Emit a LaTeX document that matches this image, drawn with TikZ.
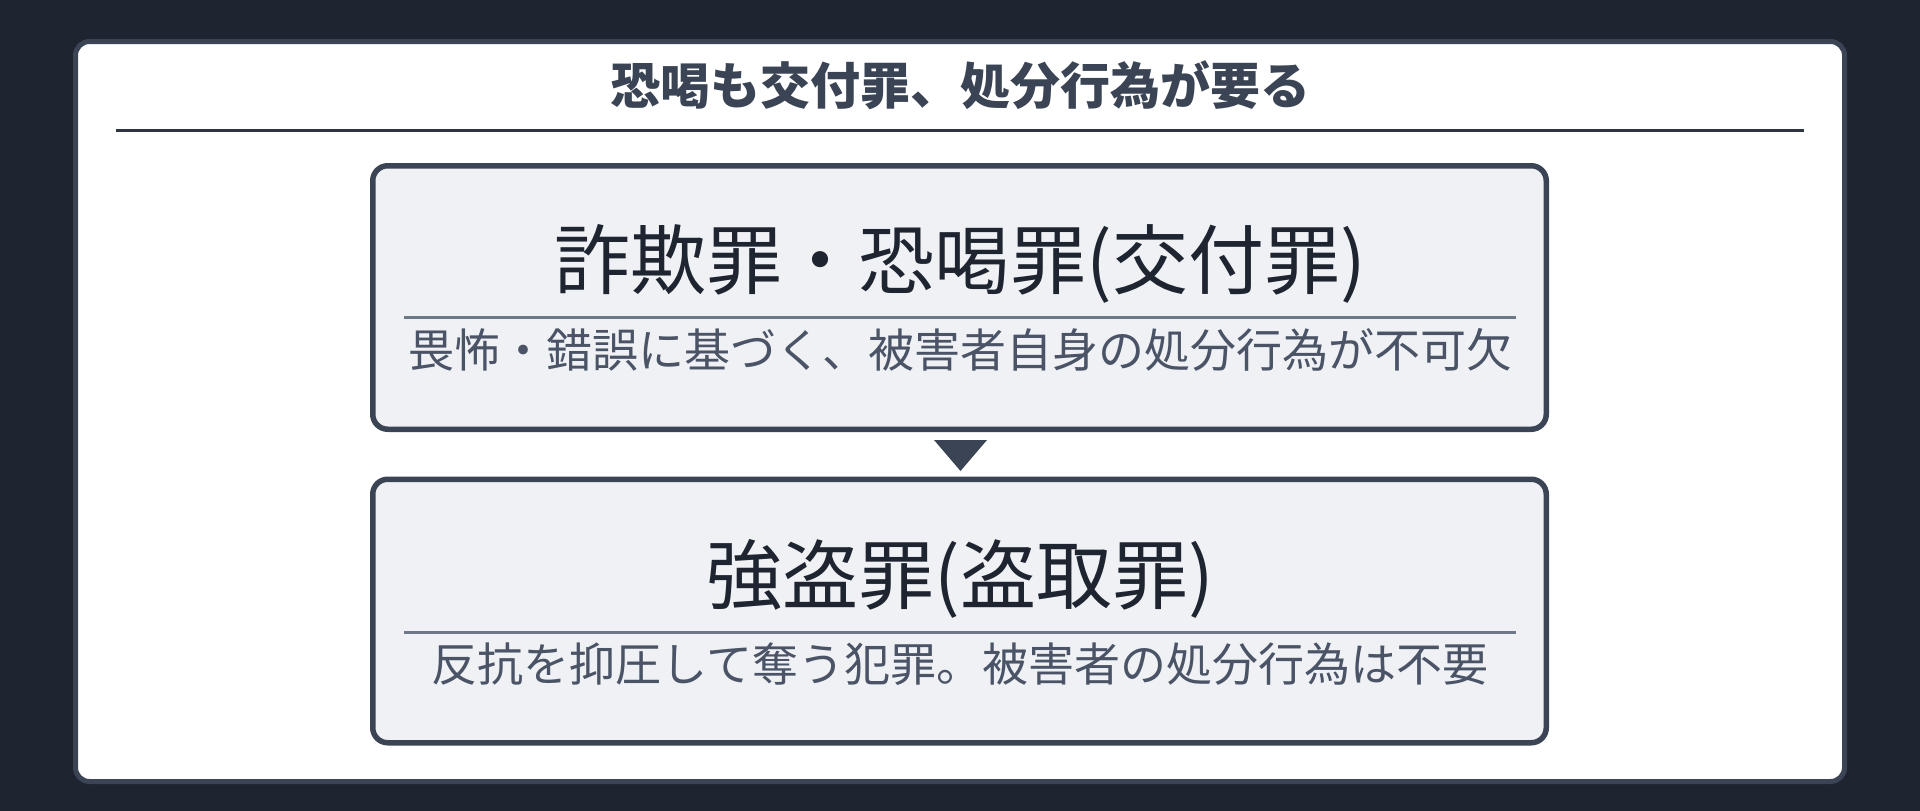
\documentclass[tikz,border=0pt]{standalone}
\usepackage{fontspec}
\newfontfamily\jp{Noto Sans CJK JP}
\definecolor{bgc}{HTML}{1E2530}
\definecolor{cardline}{HTML}{3B4454}
\definecolor{headc}{HTML}{3B4454}
\definecolor{rulec}{HTML}{2D3440}
\definecolor{boxfill}{HTML}{EFF1F5}
\definecolor{boxline}{HTML}{3B4454}
\definecolor{titlec}{HTML}{1E2530}
\definecolor{subc}{HTML}{4A5466}
\definecolor{sepc}{HTML}{6E7888}
\tikzset{
  card/.style={draw=cardline, line width=5pt, fill=white, rounded corners=14pt,
    minimum width=1769pt, minimum height=740pt, inner sep=0pt},
  stage/.style={draw=boxline, line width=5.5pt, fill=boxfill, rounded corners=15pt,
    minimum width=1173.5pt, minimum height=263.5pt, inner sep=0pt},
  heading/.style={font=\jp\bfseries\fontsize{50}{56}\selectfont, text=headc, inner sep=0pt, anchor=base},
  stagetitle/.style={font=\jp\fontsize{76}{82}\selectfont, text=titlec, inner sep=0pt, anchor=base},
  stagesub/.style={font=\jp\fontsize{46}{52}\selectfont, text=subc, inner sep=0pt, anchor=base},
  headrule/.style={draw=rulec, line width=3pt},
  seprule/.style={draw=sepc, line width=3pt},
  flowtri/.style={fill=boxline}
}
\begin{document}
\begin{tikzpicture}[x=1pt,y=-1pt]
\useasboundingbox (0,0) rectangle (1920,811);
\fill[bgc] (0,0) rectangle (1920,811);
\node[card] (card) at (960,411.5) {};
\node[heading] (head) at (960,104) {恐喝も交付罪、処分行為が要る};
\coordinate (hrL) at (116,130.5);
\coordinate (hrR) at (1804,130.5);
\draw[headrule] (hrL) -- (hrR);
% box 1
\node[stage] (box1) at (959.5,297.5) {};
\node[stagetitle] (t1) at (960,288) {詐欺罪・恐喝罪(交付罪)};
\coordinate (s1L) at (404,317.5);
\coordinate (s1R) at (1516,317.5);
\draw[seprule] (s1L) -- (s1R);
\node[stagesub] (d1) at (960,367.5) {畏怖・錯誤に基づく、被害者自身の処分行為が不可欠};
% triangle
\coordinate (tri) at (960.5,455.5);
\fill[flowtri] (tri) ++(-26.5,-15.5) -- ++(53,0) -- ++(-26.5,31) -- cycle;
% box 2
\node[stage] (box2) at (959.5,611) {};
\node[stagetitle] (t2) at (960,603) {強盗罪(盗取罪)};
\coordinate (s2L) at (404,632.5);
\coordinate (s2R) at (1516,632.5);
\draw[seprule] (s2L) -- (s2R);
\node[stagesub] (d2) at (960,681.5) {反抗を抑圧して奪う犯罪。被害者の処分行為は不要};
\end{tikzpicture}
\end{document}
